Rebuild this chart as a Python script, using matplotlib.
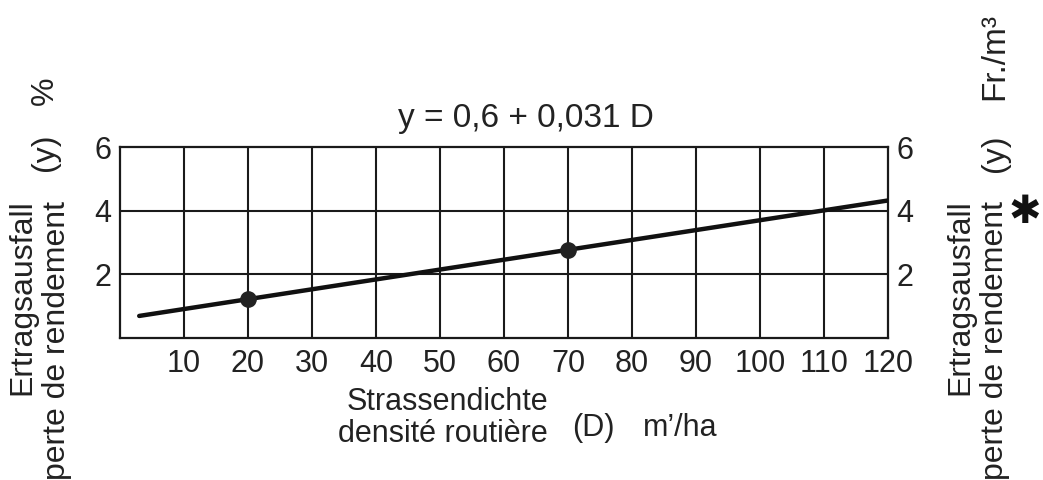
import matplotlib
matplotlib.use("Agg")
import matplotlib.pyplot as plt
import numpy as np

# Data
line_D = [3, 120]
intercept = 0.6
slope = 0.031
point_D = [20, 70]
x_ticks = [10, 20, 30, 40, 50, 60, 70, 80, 90, 100, 110, 120]
x_grid = [10, 20, 30, 40, 50, 60, 70, 80, 90, 100, 110]
y_ticks = [2, 4, 6]
y_grid = [2, 4]

W, H = 1043, 480
fig = plt.figure(figsize=(W / 100, H / 100), dpi=100)
FONT = "Liberation Sans"
plt.rcParams['font.family'] = [FONT, 'DejaVu Sans']

L, R, T, B = 120, 888, 147, 338
ax = fig.add_axes([L / W, 1 - B / H, (R - L) / W, (B - T) / H])
ax.set_xlim(0, 120)
ax.set_ylim(0, 6)

for xg in x_grid:
    ax.axvline(xg, color='#1a1a1a', lw=1.5, zorder=1)
for yg in y_grid:
    ax.axhline(yg, color='#1a1a1a', lw=1.5, zorder=1)

line_y = [intercept + slope * d for d in line_D]
ax.plot(line_D, line_y, color='#111111', lw=3.2, solid_capstyle='round', zorder=3)
point_y = [intercept + slope * d for d in point_D]
ax.plot(point_D, point_y, 'o', color='#222222', ms=11, zorder=4)

for s in ax.spines.values():
    s.set_linewidth(1.6)
    s.set_color('#1a1a1a')

ax.set_xticks(x_ticks)
ax.set_xticklabels([str(v) for v in x_ticks])
ax.set_yticks(y_ticks)
ax.set_yticklabels([str(v) for v in y_ticks])
ax.tick_params(axis='both', length=0, labelsize=22, colors='#222222')
ax.tick_params(axis='x', pad=8)
ax.tick_params(axis='y', pad=6, labelleft=True, labelright=True)

def ftext(x, y, s, size=23, rot=0, ha='center', **kw):
    fig.text(x / W, 1 - y / H, s, fontsize=size, rotation=rot,
             ha=ha, va='center', color='#222222', **kw)

ftext(526, 119, "y = 0,6 + 0,031 D", size=24)

# left labels
ftext(22, 297, "Ertragsausfall", rot=90)
ftext(57, 340, "perte de rendement", rot=90)
ftext(45, 152, "(y)", rot=90)
ftext(45, 91, "%", rot=90)

# right labels
ftext(960, 297, "Ertragsausfall", rot=90)
ftext(995, 340, "perte de rendement", rot=90)
ftext(995, 153, "(y)", rot=90)
ftext(995, 56, "Fr./m³", rot=90, size=24)
fig.text(1025 / W, 1 - 212 / H, "✱", fontsize=28, ha='center', va='center',
         color='#111111', family='DejaVu Sans', fontweight='bold')

# bottom labels
ftext(548, 402, "Strassendichte", size=22, ha='right')
ftext(548, 434, "densité routière", size=22, ha='right')
ftext(593, 428, "(D)", size=22)
ftext(680, 428, "m’/ha", size=22)

fig.savefig("out.png", dpi=100, facecolor='white')
